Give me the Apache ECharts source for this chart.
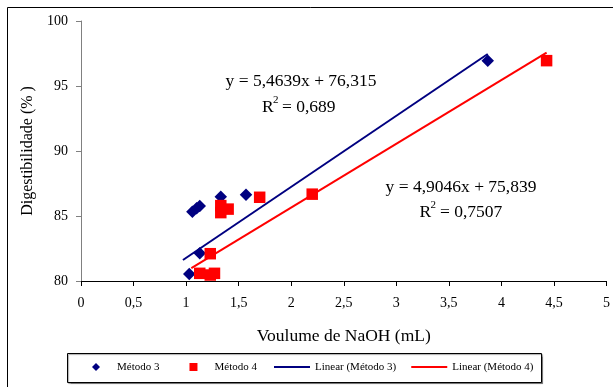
<!DOCTYPE html>
<html>
<head>
<meta charset="utf-8">
<script src="https://cdn.jsdelivr.net/npm/echarts@6/dist/echarts.min.js"></script>
<style>
html,body{margin:0;padding:0;background:#fff;}
#chart{width:613px;height:387px;}
</style>
</head>
<body>
<div id="chart"></div>
<script>
// ---- data ----
const seriesNames = ['Método 3', 'Método 4', 'Linear (Método 3)', 'Linear (Método 4)'];
const metodo3X = [1.03, 1.13, 1.06, 1.10, 1.13, 1.33, 1.57, 3.87];
const metodo3Y = [80.54, 82.13, 85.33, 85.59, 85.77, 86.48, 86.64, 96.95];
const metodo4X = [1.13, 1.23, 1.27, 1.23, 1.33, 1.33, 1.40, 1.70, 2.20, 4.43];
const metodo4Y = [80.59, 80.46, 80.59, 82.10, 85.80, 85.26, 85.53, 86.44, 86.68, 96.95];
const trendSlopes = [5.4639, 4.9046];
const trendIntercepts = [76.315, 75.839];
const trendR2 = ['0,689', '0,7507'];
const trendXRanges = [[0.97, 3.87], [1.05, 4.43]];
const xAxisTitle = 'Voulume de NaOH (mL)';
const yAxisTitle = 'Digestibilidade (% )';

const FONT = '"Liberation Serif", "Times New Roman", serif';
const BLUE = '#000080';
const RED = '#FF0000';

function pairs(xs, ys) { return xs.map((x, i) => [x, ys[i]]); }
function trendLine(k) {
  return trendXRanges[k].map(x => [x, trendIntercepts[k] + trendSlopes[k] * x]);
}
function fmt(n) { return String(n).replace('.', ','); }
function eqText(k) {
  return 'y = ' + fmt(trendSlopes[k]) + 'x + ' + fmt(trendIntercepts[k]);
}

const chart = echarts.init(document.getElementById('chart'), null, {renderer: 'canvas'});

function txt(str, x, y, size, align) {
  return {type: 'text', z: 5, silent: true, x: x, y: y,
    style: {text: str, fontFamily: FONT, fontSize: size, fill: '#000',
      align: align || 'left', verticalAlign: 'middle'}};
}
const EQ = 17.5;

const option = {
  backgroundColor: '#fff',
  animation: false,
  grid: {left: 81, right: 6.5, top: 21, bottom: 106, containLabel: false},
  xAxis: {
    type: 'value', min: 0, max: 5, interval: 0.5,
    name: xAxisTitle, nameLocation: 'middle', nameGap: 46,
    nameTextStyle: {fontFamily: FONT, fontSize: 17.5, color: '#000'},
    axisLine: {show: true, onZero: false, lineStyle: {color: '#000', width: 1}},
    axisTick: {show: true, length: 5, lineStyle: {color: '#000'}},
    axisLabel: {fontFamily: FONT, fontSize: 14, color: '#000', margin: 15, formatter: v => fmt(v)},
    splitLine: {show: false}
  },
  yAxis: {
    type: 'value', min: 80, max: 100, interval: 5,
    name: yAxisTitle, nameLocation: 'middle', nameGap: 44, nameRotate: 90,
    nameTextStyle: {fontFamily: FONT, fontSize: 16, color: '#000'},
    axisLine: {show: true, onZero: false, lineStyle: {color: '#808080', width: 1}},
    axisTick: {show: true, length: 5, lineStyle: {color: '#808080'}},
    axisLabel: {fontFamily: FONT, fontSize: 14, color: '#000', margin: 13},
    splitLine: {show: false}
  },
  legend: [
    {
      data: [
        {name: seriesNames[0], icon: 'diamond'},
        {name: seriesNames[1], icon: 'rect'}
      ],
      left: 92, top: 361.5, padding: 0, itemWidth: 8, itemHeight: 8, itemGap: 30,
      formatter: name => '{g| }{t|' + name + '}',
      textStyle: {fontFamily: FONT, fontSize: 11, color: '#000',
        rich: {g: {width: 12, fontSize: 11}, t: {fontFamily: FONT, fontSize: 11, color: '#000'}}},
      selectedMode: false, z: 10
    },
    {
      data: [
        {name: seriesNames[2], icon: 'rect'},
        {name: seriesNames[3], icon: 'rect'}
      ],
      left: 274, top: 361.5, padding: 0, itemWidth: 36, itemHeight: 2, itemGap: 15,
      textStyle: {fontFamily: FONT, fontSize: 11, color: '#000'},
      selectedMode: false, z: 10
    }
  ],
  graphic: [
    {type: 'rect', z: 0, silent: true,
      shape: {x: 7.5, y: 7.5, width: 800, height: 600},
      style: {fill: 'none', stroke: '#000', lineWidth: 1}},
    {type: 'rect', z: 1, silent: true,
      shape: {x: 67.5, y: 353.5, width: 474, height: 29},
      style: {fill: '#fff', stroke: '#000', lineWidth: 1, shadowColor: 'rgba(0,0,0,0.35)', shadowOffsetX: 1, shadowOffsetY: 1, shadowBlur: 1}},
    txt(eqText(0), 301, 81, EQ, 'center'),
    txt('R', 262, 107.5, EQ),
    txt('2', 273, 100.5, 11),
    txt('= ' + trendR2[0], 282, 107.5, EQ),
    txt(eqText(1), 461, 187, EQ, 'center'),
    txt('R', 419.5, 212, EQ),
    txt('2', 430.5, 205, 11),
    txt('= ' + trendR2[1], 440, 212, EQ)
  ],
  series: [
    {
      name: seriesNames[2], type: 'line', data: trendLine(0), showSymbol: false, symbol: 'none',
      color: BLUE, lineStyle: {color: BLUE, width: 2}, z: 2, silent: true
    },
    {
      name: seriesNames[3], type: 'line', data: trendLine(1), showSymbol: false, symbol: 'none',
      color: RED, lineStyle: {color: RED, width: 2}, z: 2, silent: true
    },
    {
      name: seriesNames[0], type: 'scatter', data: pairs(metodo3X, metodo3Y),
      symbol: 'diamond', symbolSize: 12.5, itemStyle: {color: BLUE, opacity: 1}, z: 3
    },
    {
      name: seriesNames[1], type: 'scatter', data: pairs(metodo4X, metodo4Y),
      symbol: 'rect', symbolSize: 11.5, itemStyle: {color: RED, opacity: 1}, z: 3
    }
  ]
};
chart.setOption(option);
</script>
</body>
</html>
